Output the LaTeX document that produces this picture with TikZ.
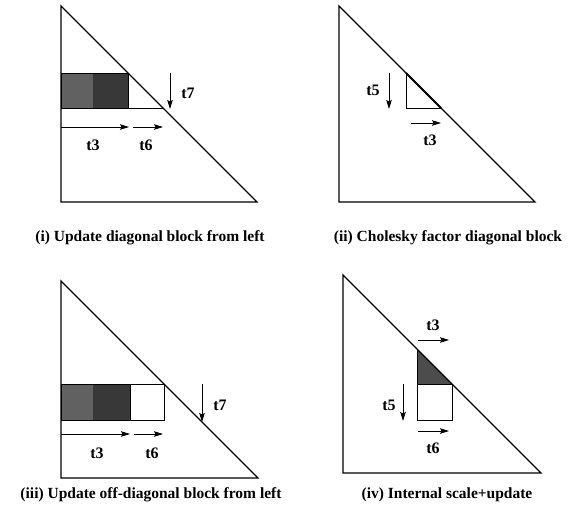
\documentclass[tikz,border=0pt]{standalone}
\usepackage{fontspec}
\setmainfont{Liberation Serif}
\usepackage{tikz}
\usetikzlibrary{arrows.meta,positioning,calc}

\begin{document}
\begin{tikzpicture}[x=1pt,y=-1pt,>={Stealth[length=9pt,width=5.5pt,inset=1.5pt]},
  tri/.style={line width=1.2pt,line join=miter},
  blk/.style={line width=0.9pt},
  arr/.style={->,line width=0.8pt},
  lbl/.style={font=\fontsize{16}{18}\selectfont\bfseries,inner sep=0pt},
  captxt/.style={font=\fontsize{15.5}{18}\selectfont\bfseries,inner sep=0pt}]
\useasboundingbox (0,0) rectangle (578,512);
% (i) update diagonal block from left
\coordinate (A1) at (61,6);
\coordinate (B1) at (61,202);
\coordinate (C1) at (257,202);
\fill[black!62] (61,73) rectangle (93,108);
\fill[black!78] (93,73) rectangle (128,108);
\draw[blk] (61,73) rectangle (128,108);
\draw[blk] (128,108) -- (163,108);
\draw[tri] (A1) -- (B1) -- (C1) -- cycle;
\coordinate (p7s) at (170,73);
\coordinate (p7e) at (170,109);
\draw[arr] (p7s) -- (p7e);
\node[lbl] (t7a) at (188,93) {t7};
\coordinate (p3s) at (61,127);
\coordinate (p3e) at (129,127);
\coordinate (p6s) at (133,127);
\coordinate (p6e) at (163,127);
\draw[arr] (p3s) -- (p3e);
\draw[arr] (p6s) -- (p6e);
\node[lbl] (t3a) at (93,145) {t3};
\node[lbl] (t6a) at (146,145) {t6};
\node[captxt] (capi) at (150,238) {(i) Update diagonal block from left};
% (ii) cholesky factor diagonal block
\coordinate (A2) at (339,6);
\coordinate (B2) at (339,202);
\coordinate (C2) at (535,202);
\draw[blk] (406,73) -- (406,108) -- (441,108);
\draw[tri] (A2) -- (B2) -- (C2) -- cycle;
\draw[line width=1.8pt] (406,73) -- (441,108);
\coordinate (q5s) at (389,73);
\coordinate (q5e) at (389,109);
\draw[arr] (q5s) -- (q5e);
\node[lbl] (t5b) at (373,90) {t5};
\coordinate (q3s) at (411,123);
\coordinate (q3e) at (441,123);
\draw[arr] (q3s) -- (q3e);
\node[lbl] (t3b) at (430,140) {t3};
\node[captxt] (capii) at (448,238) {(ii) Cholesky factor diagonal block};
% (iii) update off-diagonal block from left
\coordinate (A3) at (61,281);
\coordinate (B3) at (61,478);
\coordinate (C3) at (258,478);
\fill[black!62] (61,384) rectangle (93,420);
\fill[black!78] (93,384) rectangle (130,420);
\draw[blk] (61,384) rectangle (164,420);
\draw[blk] (130,384) -- (130,420);
\draw[tri] (A3) -- (B3) -- (C3) -- cycle;
\coordinate (r7s) at (202,384);
\coordinate (r7e) at (202,422);
\draw[arr] (r7s) -- (r7e);
\node[lbl] (t7c) at (220,405) {t7};
\coordinate (r3s) at (61,434);
\coordinate (r3e) at (130,434);
\coordinate (r6s) at (134,434);
\coordinate (r6e) at (163,434);
\draw[arr] (r3s) -- (r3e);
\draw[arr] (r6s) -- (r6e);
\node[lbl] (t3c) at (97,453) {t3};
\node[lbl] (t6c) at (152,453) {t6};
\node[captxt] (capiii) at (151,495) {(iii) Update off-diagonal block from left};
% (iv) internal scale+update
\coordinate (A4) at (343,275);
\coordinate (B4) at (343,473);
\coordinate (C4) at (541,473);
\fill[black!70] (417,349) -- (452,384) -- (417,384) -- cycle;
\draw[blk] (417,349) -- (417,420) -- (452,420) -- (452,384) -- (417,384);
\draw[tri] (A4) -- (B4) -- (C4) -- cycle;
\coordinate (s3s) at (418,340);
\coordinate (s3e) at (449,340);
\draw[arr] (s3s) -- (s3e);
\node[lbl] (t3d) at (433,325) {t3};
\coordinate (s5s) at (403,384);
\coordinate (s5e) at (403,421);
\draw[arr] (s5s) -- (s5e);
\node[lbl] (t5d) at (389,405) {t5};
\coordinate (s6s) at (418,431);
\coordinate (s6e) at (449,431);
\draw[arr] (s6s) -- (s6e);
\node[lbl] (t6d) at (433,448) {t6};
\node[captxt] (capiv) at (447,495) {(iv) Internal scale+update};
\end{tikzpicture}
\end{document}
